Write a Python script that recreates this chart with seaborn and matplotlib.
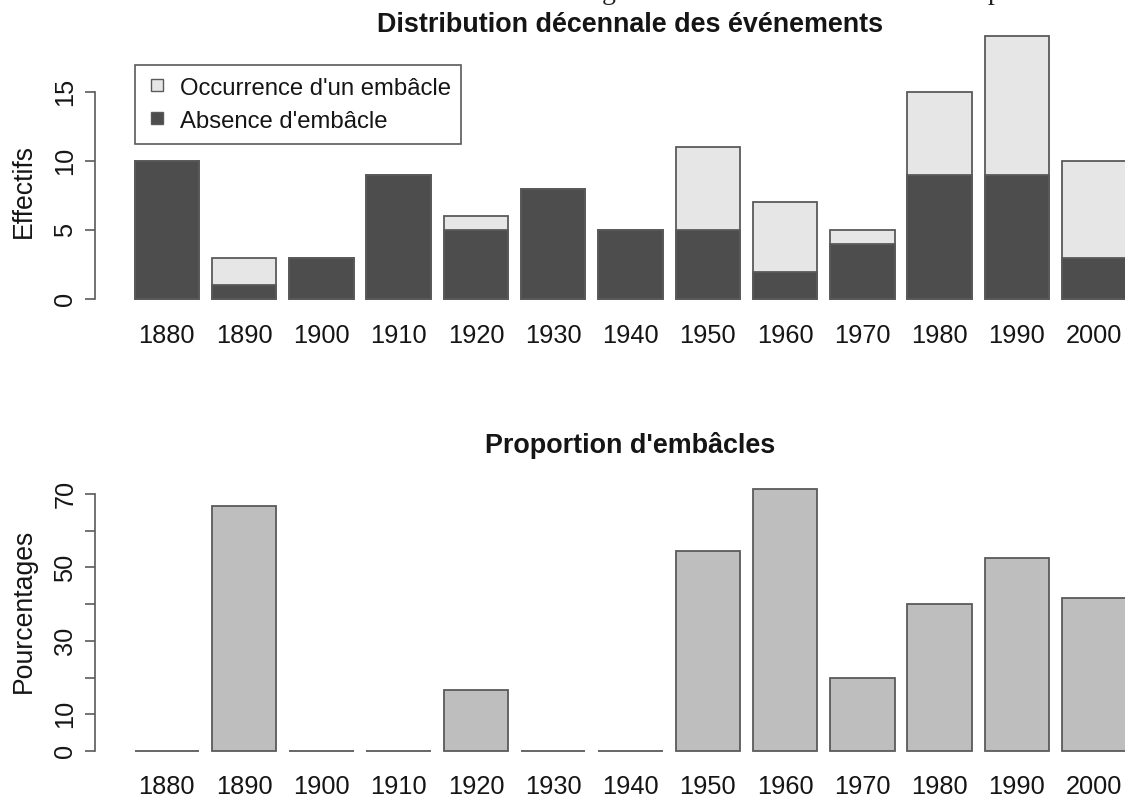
import matplotlib
matplotlib.use("Agg")
import matplotlib.pyplot as plt
from matplotlib.lines import Line2D
import seaborn as sns

# Decade classes and event counts
decades = ["1880", "1890", "1900", "1910", "1920", "1930", "1940",
           "1950", "1960", "1970", "1980", "1990", "2000"]
absence = [10, 1, 3, 9, 5, 8, 5, 5, 2, 4, 9, 9, 3]
occurrence = [0, 2, 0, 0, 1, 0, 0, 6, 5, 1, 6, 10, 7]
percentages = [0, 66.7, 0, 0, 16.7, 0, 0, 54.5, 71.4, 20.0, 40.0, 52.6, 41.7]

count_ticks = [0, 5, 10, 15]
pct_ticks = [0, 10, 20, 30, 40, 50, 60, 70]
pct_tick_labels = ["0", "10", "", "30", "", "50", "", "70"]

legend_labels = ["Occurrence d'un embâcle", "Absence d'embâcle"]

DARK = "#4d4d4d"
LIGHT = "#e6e6e6"
MID = "#bebebe"
EDGE = "#5a5a5a"
TEXT = "#151515"

sns.set_style("white")
plt.rcParams["font.family"] = ["Liberation Sans", "DejaVu Sans"]
plt.rcParams["text.color"] = TEXT
plt.rcParams["axes.labelcolor"] = TEXT
plt.rcParams["xtick.color"] = TEXT
plt.rcParams["ytick.color"] = TEXT

W, H = 1125, 798
fig = plt.figure(figsize=(W / 100, H / 100), dpi=100, facecolor="white")


def axes_px(left, top, right, bottom):
    return fig.add_axes([left / W, 1 - bottom / H, (right - left) / W, (bottom - top) / H])


ax1 = axes_px(95, 25.8, 1166, 309.8)
ax2 = axes_px(95, 478.3, 1166, 761.5)

BAR_W = 1 / 1.2
totals = [a + o for a, o in zip(absence, occurrence)]

# Stacked counts: full height in light grey, absence overlaid in dark grey
sns.barplot(x=decades, y=totals, color=LIGHT, saturation=1, width=BAR_W,
            edgecolor=EDGE, linewidth=1.3, errorbar=None, ax=ax1)
sns.barplot(x=decades, y=absence, color=DARK, saturation=1, width=BAR_W,
            edgecolor=EDGE, linewidth=1.3, errorbar=None, ax=ax1)

sns.barplot(x=decades, y=percentages, color=MID, saturation=1, width=BAR_W,
            edgecolor=EDGE, linewidth=1.3, errorbar=None, ax=ax2)

ax1.set_ylim(-0.76, 19.76)
ax2.set_ylim(-2.857, 74.29)

for ax, ticks in ((ax1, count_ticks), (ax2, pct_ticks)):
    ax.set_xlim(-0.93, 12.93)
    ax.set_facecolor("none")
    for side in ("top", "right", "bottom"):
        ax.spines[side].set_visible(False)
    ax.spines["left"].set_bounds(ticks[0], ticks[-1])
    ax.spines["left"].set_color(EDGE)
    ax.spines["left"].set_linewidth(1.2)
    ax.set_yticks(ticks)
    ax.tick_params(axis="x", length=0, pad=10, labelsize=18.3, bottom=False)
    ax.tick_params(axis="y", left=True, length=7.2, width=1.2, color=EDGE,
                   direction="out", pad=5.5, labelsize=18.3, labelrotation=90)
    ax.set_xlabel("")

ax2.set_yticklabels(pct_tick_labels)
for ax in (ax1, ax2):
    for lab in ax.get_yticklabels():
        lab.set_va("center")

ax1.set_title("Distribution décennale des événements", fontsize=19.4,
              fontweight="bold", y=0.979, pad=0)
ax2.set_title("Proportion d'embâcles", fontsize=19.4, fontweight="bold",
              y=1.089, pad=0)

ax1.set_ylabel("Effectifs", fontsize=19.2)
ax1.yaxis.set_label_coords(-0.0542, 0.418)
ax2.set_ylabel("Pourcentages", fontsize=19.2)
ax2.yaxis.set_label_coords(-0.0542, 0.533)

handles = [
    Line2D([], [], marker="s", ls="none", markersize=8.6, markerfacecolor=LIGHT,
           markeredgecolor=EDGE, markeredgewidth=1.0),
    Line2D([], [], marker="s", ls="none", markersize=8.6, markerfacecolor=DARK,
           markeredgecolor=EDGE, markeredgewidth=1.0),
]
leg = ax1.legend(handles, legend_labels, loc="upper left",
                 bbox_to_anchor=(135 / W, 1 - 65 / H), bbox_transform=fig.transFigure,
                 fontsize=17.2, frameon=True, fancybox=False, edgecolor=EDGE,
                 framealpha=1, borderpad=0.44, handlelength=1.0,
                 handleheight=1.05, handletextpad=0.44, labelspacing=0.38,
                 borderaxespad=0)
leg.get_frame().set_linewidth(1.2)

# Lower strokes of the running text line above the figure
fig.text(609 / W, 1 + 1 / H, "g", family="Liberation Serif", fontsize=20,
         ha="center", va="baseline", color="#222222")
fig.text(988 / W, 1 + 1 / H, "p", family="Liberation Serif", fontsize=20,
         ha="left", va="baseline", color="#222222")

fig.savefig("out.png", dpi=100, facecolor="white")
